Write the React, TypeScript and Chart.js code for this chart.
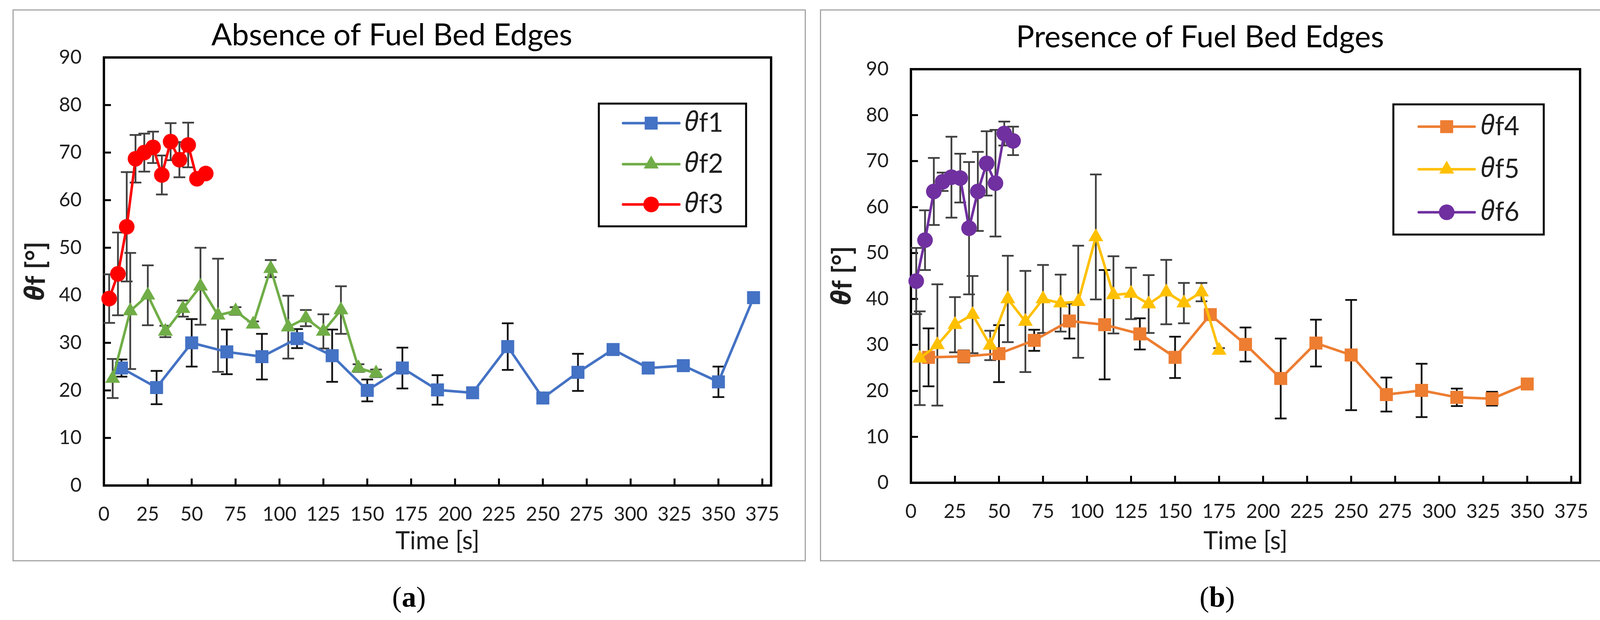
import React, { useEffect, useRef } from 'react';
import { Chart, registerables } from 'chart.js';
import { drawPoint } from 'chart.js/helpers';

Chart.register(...registerables);

// ---- (a) Absence of fuel bed edges ----
const timeF1 = [10, 30, 50, 70, 90, 110, 130, 150, 170, 190, 210, 230, 250, 270, 290, 310, 330, 350, 370];
const thetaF1 = [24.7, 20.6, 30.0, 28.1, 27.1, 30.9, 27.3, 20.0, 24.7, 20.1, 19.5, 29.2, 18.4, 23.8, 28.6, 24.7, 25.2, 21.8, 39.5];
const errF1 = [1.8, 3.5, 5.0, 4.7, 4.8, 2.0, 5.5, 2.3, 4.3, 3.1, 0.4, 4.9, 0.5, 3.9, 0.5, 0.5, 0.5, 3.2, 0.5];

const timeF2 = [5, 15, 25, 35, 45, 55, 65, 75, 85, 95, 105, 115, 125, 135, 145, 155];
const thetaF2 = [22.5, 36.7, 40.0, 32.4, 37.2, 41.9, 35.8, 36.7, 33.9, 45.6, 33.3, 35.2, 32.4, 36.9, 24.7, 23.6];
const errF2 = [4.1, 12.2, 6.3, 1.2, 1.7, 8.1, 11.9, 0.8, 0.6, 1.8, 6.6, 1.7, 3.6, 5.0, 0.8, 0.8];

const timeF3 = [3, 8, 13, 18, 23, 28, 33, 38, 43, 48, 53, 58];
const thetaF3 = [39.3, 44.5, 54.4, 68.7, 70.0, 71.1, 65.3, 72.3, 68.5, 71.6, 64.5, 65.6];
const errF3 = [5.1, 8.7, 11.5, 5.0, 4.0, 3.3, 4.1, 3.9, 3.7, 4.7, 0.5, 0.5];

// ---- (b) Presence of fuel bed edges ----
const timeF4 = [10, 30, 50, 70, 90, 110, 130, 150, 170, 190, 210, 230, 250, 270, 290, 310, 330, 350];
const thetaF4 = [27.3, 27.5, 28.1, 31.0, 35.2, 34.4, 32.4, 27.3, 36.6, 30.1, 22.7, 30.4, 27.8, 19.2, 20.1, 18.6, 18.3, 21.5];
const errF4 = [6.3, 1.3, 6.2, 2.3, 3.8, 11.9, 3.4, 4.5, 0.5, 3.7, 8.7, 5.1, 12.0, 3.7, 5.8, 1.9, 1.5, 0.5];

const timeF5 = [5, 15, 25, 35, 45, 55, 65, 75, 85, 95, 105, 115, 125, 135, 145, 155, 165, 175];
const thetaF5 = [27.1, 30.0, 34.4, 36.6, 29.9, 40.0, 35.1, 40.0, 39.1, 39.4, 53.5, 40.9, 41.2, 38.9, 41.5, 39.1, 41.5, 28.8];
const errF5 = [10.2, 13.2, 6.0, 8.4, 3.2, 9.4, 11.0, 7.4, 6.2, 12.2, 13.6, 8.4, 5.6, 6.3, 7.0, 4.4, 2.0, 0.5];

const timeF6 = [3, 8, 13, 18, 23, 28, 33, 38, 43, 48, 53, 58];
const thetaF6 = [43.9, 52.8, 63.4, 65.5, 66.5, 66.3, 55.4, 63.4, 69.5, 65.2, 76.0, 74.4];
const errF6 = [7.2, 6.5, 7.3, 2.0, 8.8, 5.3, 14.4, 8.6, 7.0, 11.6, 2.6, 3.1];

const xTicks = [0, 25, 50, 75, 100, 125, 150, 175, 200, 225, 250, 275, 300, 325, 350, 375];
const yTicks = [0, 10, 20, 30, 40, 50, 60, 70, 80, 90];

const FONT = 'Lato, "Noto Sans", sans-serif';
const GREEK = '"Noto Sans", "DejaVu Sans", sans-serif';
const TEXT = '#1e1e1e';

type Marker = 'rect' | 'triangle' | 'circle';
interface Series {
  name: string;
  time: number[];
  theta: number[];
  err: number[];
  color: string;
  errColor: string;
  marker: Marker;
}

const radiusFor: Record<Marker, number> = { rect: 23.5, triangle: 22, circle: 20 };

const seriesA: Series[] = [
  { name: '1', time: timeF1, theta: thetaF1, err: errF1, color: '#4472C4', errColor: '#111111', marker: 'rect' },
  { name: '2', time: timeF2, theta: thetaF2, err: errF2, color: '#70AD47', errColor: '#404040', marker: 'triangle' },
  { name: '3', time: timeF3, theta: thetaF3, err: errF3, color: '#FF0000', errColor: '#404040', marker: 'circle' },
];
const seriesB: Series[] = [
  { name: '4', time: timeF4, theta: thetaF4, err: errF4, color: '#ED7D31', errColor: '#111111', marker: 'rect' },
  { name: '5', time: timeF5, theta: thetaF5, err: errF5, color: '#FFC000', errColor: '#404040', marker: 'triangle' },
  { name: '6', time: timeF6, theta: thetaF6, err: errF6, color: '#7030A0', errColor: '#404040', marker: 'circle' },
];

interface PanelSpec {
  title: string;
  caption: string;
  series: Series[];
  box: { left: number; top: number; width: number; height: number };
  plot: { left: number; top: number; right: number; bottom: number };
  titleCY: number;
  yTitleCX: number;
  legend: { x0: number; y0: number; x1: number; y1: number; rows: number[]; lx0: number; lx1: number; tx: number };
  captionCX: number;
}

const panelA: PanelSpec = {
  title: 'Absence of Fuel Bed Edges',
  caption: 'a',
  series: seriesA,
  box: { left: 32, top: 24, width: 2031, height: 1412 },
  plot: { left: 234, top: 123, right: 1942, bottom: 1218 },
  titleCY: 67,
  yTitleCX: 61,
  legend: { x0: 1501, y0: 241, x1: 1878, y1: 555, rows: [291, 396, 499], lx0: 1563, lx1: 1707, tx: 1720 },
  captionCX: 1047,
};

const panelB: PanelSpec = {
  title: 'Presence of Fuel Bed Edges',
  caption: 'b',
  series: seriesB,
  box: { left: 2099, top: 24, width: 2036, height: 1412 },
  plot: { left: 233, top: 153, right: 1946, bottom: 1211 },
  titleCY: 72,
  yTitleCX: 59,
  legend: { x0: 1468, y0: 243, x1: 1853, y1: 576, rows: [300, 409, 519], lx0: 1533, lx1: 1676, tx: 1691 },
  captionCX: 3116,
};

const TITLE_SIZE = 78;
const TICK_SIZE = 50;
const XTITLE_SIZE = 63;
const YTITLE_SIZE = 68;
const LEGEND_SIZE = 67;

// plot frame, inward tick marks and error bars (under the series)
const framePlugin = {
  id: 'excelFrame',
  beforeDatasetsDraw(chart: any) {
    const { ctx, chartArea: a, scales } = chart;
    const x = scales.x;
    const y = scales.y;
    ctx.save();
    ctx.strokeStyle = '#000';
    ctx.lineWidth = 6;
    ctx.strokeRect(a.left, a.top, a.right - a.left, a.bottom - a.top);
    ctx.lineWidth = 5;
    ctx.beginPath();
    yTicks.forEach((v) => {
      const py = y.getPixelForValue(v);
      ctx.moveTo(a.left, py);
      ctx.lineTo(a.left + 18, py);
    });
    xTicks.forEach((v) => {
      const px = x.getPixelForValue(v);
      ctx.moveTo(px, a.bottom);
      ctx.lineTo(px, a.bottom - 18);
    });
    ctx.stroke();

    ctx.lineWidth = 4.5;
    chart.data.datasets.forEach((ds: any) => {
      ctx.strokeStyle = ds.errColor;
      ds.data.forEach((p: { x: number; y: number }, i: number) => {
        const e = ds.err[i];
        const px = x.getPixelForValue(p.x);
        const top = y.getPixelForValue(p.y + e);
        const bot = y.getPixelForValue(p.y - e);
        ctx.beginPath();
        ctx.moveTo(px, top);
        ctx.lineTo(px, bot);
        ctx.moveTo(px - 15, top);
        ctx.lineTo(px + 15, top);
        ctx.moveTo(px - 15, bot);
        ctx.lineTo(px + 15, bot);
        ctx.stroke();
      });
    });
    ctx.restore();
  },
};

// text with an italic theta in front
function thetaText(ctx: CanvasRenderingContext2D, rest: string, x: number, y: number, size: number, weight: string, center: boolean) {
  const fItal = `italic ${weight} ${size}px ${GREEK}`;
  const fNorm = `${weight} ${size}px ${FONT}`;
  ctx.font = fItal;
  const w1 = ctx.measureText('θ').width;
  ctx.font = fNorm;
  const w2 = ctx.measureText(rest).width;
  const start = center ? x - (w1 + w2) / 2 : x;
  ctx.textAlign = 'left';
  ctx.textBaseline = 'middle';
  ctx.font = fItal;
  ctx.fillText('θ', start, y);
  ctx.font = fNorm;
  ctx.fillText(rest, start + w1 + size * 0.02, y);
}

const legendPlugin = {
  id: 'boxLegend',
  afterDatasetsDraw(chart: any, _args: any, opts: any) {
    const { ctx, chartArea } = chart;
    const lg = opts.legend;
    ctx.save();
    // legend box
    ctx.fillStyle = '#fff';
    ctx.fillRect(lg.x0, lg.y0, lg.x1 - lg.x0, lg.y1 - lg.y0);
    ctx.strokeStyle = '#000';
    ctx.lineWidth = 5;
    ctx.strokeRect(lg.x0, lg.y0, lg.x1 - lg.x0, lg.y1 - lg.y0);
    chart.data.datasets.forEach((ds: any, i: number) => {
      const ry = lg.rows[i];
      ctx.strokeStyle = ds.borderColor;
      ctx.lineWidth = 6.5;
      ctx.lineCap = 'round';
      ctx.beginPath();
      ctx.moveTo(lg.lx0, ry);
      ctx.lineTo(lg.lx1, ry);
      ctx.stroke();
      ctx.fillStyle = ds.backgroundColor;
      drawPoint(ctx, { pointStyle: ds.pointStyle, radius: ds.pointRadius, rotation: 0, borderWidth: 0 } as any, (lg.lx0 + lg.lx1) / 2, ry);
      ctx.fillStyle = TEXT;
      thetaText(ctx, 'f' + ds.label, lg.tx, ry, LEGEND_SIZE, 'normal', false);
    });
    // y-axis title
    ctx.translate(opts.yTitleCX, (chartArea.top + chartArea.bottom) / 2);
    ctx.rotate(-Math.PI / 2);
    ctx.fillStyle = TEXT;
    thetaText(ctx, 'f [°]', 0, 0, YTITLE_SIZE, 'bold', true);
    ctx.restore();
  },
};

function Panel({ spec }: { spec: PanelSpec }) {
  const canvasRef = useRef<HTMLCanvasElement | null>(null);

  useEffect(() => {
    if (!canvasRef.current) return;
    const { box, plot } = spec;
    const lh = TITLE_SIZE * 1.2;
    const titleTop = spec.titleCY - lh / 2;
    const titleBottom = plot.top - lh - titleTop;
    const xlh = XTITLE_SIZE * 1.2;

    const chart = new Chart(canvasRef.current, {
      type: 'line',
      data: {
        datasets: spec.series.map((s, i) => ({
          label: s.name,
          data: s.time.map((t, k) => ({ x: t, y: s.theta[k] })),
          err: s.err,
          errColor: s.errColor,
          borderColor: s.color,
          backgroundColor: s.color,
          borderWidth: 6.5,
          pointStyle: s.marker,
          pointRadius: radiusFor[s.marker],
          pointBorderWidth: 0,
          pointHoverRadius: radiusFor[s.marker],
          tension: 0,
          clip: false,
          order: spec.series.length - i,
        })) as any,
      },
      options: {
        animation: false,
        responsive: false,
        devicePixelRatio: 1,
        events: [],
        layout: { padding: { left: 0, top: 0, bottom: 0, right: box.width - plot.right } },
        plugins: {
          legend: { display: false },
          tooltip: { enabled: false },
          title: {
            display: true,
            text: spec.title,
            color: '#000',
            font: { family: FONT, size: TITLE_SIZE, weight: 'normal' },
            padding: { top: titleTop, bottom: titleBottom },
          },
          boxLegend: { legend: spec.legend, yTitleCX: spec.yTitleCX },
        } as any,
        scales: {
          x: {
            type: 'linear',
            min: 0,
            max: 380,
            afterBuildTicks: (s: any) => {
              s.ticks = xTicks.map((v) => ({ value: v }));
            },
            afterFit: (s: any) => {
              s.height = box.height - plot.bottom;
            },
            grid: { display: false, drawTicks: false },
            border: { display: false },
            ticks: {
              autoSkip: false,
              maxRotation: 0,
              padding: 44,
              color: TEXT,
              font: { family: FONT, size: TICK_SIZE },
            },
            title: {
              display: true,
              text: 'Time [s]',
              color: TEXT,
              font: { family: FONT, size: XTITLE_SIZE },
              padding: { top: 0, bottom: 51 - xlh / 2 },
            },
          },
          y: {
            type: 'linear',
            min: 0,
            max: 90,
            afterBuildTicks: (s: any) => {
              s.ticks = yTicks.map((v) => ({ value: v }));
            },
            afterFit: (s: any) => {
              s.width = plot.left;
            },
            grid: { display: false, drawTicks: false },
            border: { display: false },
            ticks: {
              padding: 57,
              color: TEXT,
              font: { family: FONT, size: TICK_SIZE },
            },
          },
        },
      },
      plugins: [framePlugin, legendPlugin],
    });

    return () => {
      chart.destroy();
    };
  }, [spec]);

  const { box } = spec;
  return (
    <>
      <div
        style={{
          position: 'absolute',
          left: box.left,
          top: box.top,
          width: box.width,
          height: box.height,
          border: '3px solid #a6a6a6',
          boxSizing: 'border-box',
        }}
      />
      <canvas
        ref={canvasRef}
        width={box.width}
        height={box.height}
        style={{ position: 'absolute', left: box.left, top: box.top }}
      />
      <div
        style={{
          position: 'absolute',
          left: spec.captionCX - 100,
          top: 1480,
          width: 200,
          height: 94,
          lineHeight: '94px',
          textAlign: 'center',
          fontFamily: '"Liberation Serif", "DejaVu Serif", serif',
          fontSize: 74,
          color: '#000',
        }}
      >
        (<b>{spec.caption}</b>)
      </div>
    </>
  );
}

export default function App() {
  return (
    <div style={{ position: 'absolute', left: 0, top: 0, width: 4150, height: 1586, background: '#fff' }}>
      <Panel spec={panelA} />
      <Panel spec={panelB} />
    </div>
  );
}
